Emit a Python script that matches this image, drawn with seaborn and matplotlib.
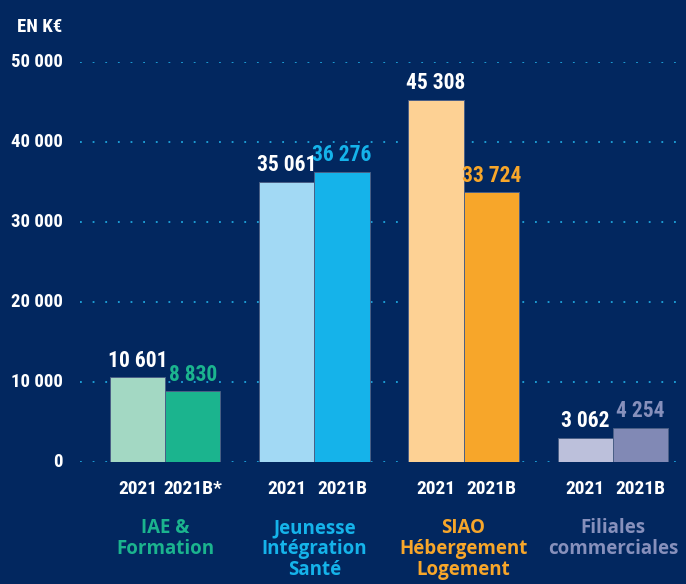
import matplotlib
matplotlib.use("Agg")
import matplotlib.pyplot as plt
import matplotlib.transforms as mtransforms
import pandas as pd
import seaborn as sns

# data
groupes = ["IAE", "Jeunesse", "SIAO", "Filiales"]
noms_groupes = ["IAE &\nFormation", "Jeunesse\nIntégration\nSanté",
                "SIAO\nHébergement\nLogement", "Filiales\ncommerciales"]
annees = ["2021", "2021B"]
etiquettes_annees = [["2021", "2021B*"], ["2021", "2021B"], ["2021", "2021B"], ["2021", "2021B"]]
valeurs_2021 = [10601, 35061, 45308, 3062]
valeurs_2021b = [8830, 36276, 33724, 4254]
y_ticks = [0, 10000, 20000, 30000, 40000, 50000]

couleurs_claires = ["#a3d8c3", "#a2d9f4", "#fdd194", "#bcc0db"]
couleurs_foncees = ["#1bb48e", "#15b3ea", "#f7a62a", "#8189b5"]
couleurs_texte = ["#1bb48e", "#15b3ea", "#f7a62a", "#8790bc"]

FOND = "#02275f"
NARROW = ["Roboto Condensed", "DejaVu Sans"]

df = pd.DataFrame({
    "groupe": groupes * 2,
    "annee": [annees[0]] * 4 + [annees[1]] * 4,
    "valeur": valeurs_2021 + valeurs_2021b,
})

sns.set_style("white")
fig = plt.figure(figsize=(6.86, 5.84), dpi=100, facecolor=FOND)
ax = fig.add_axes([80 / 686, 122 / 584, 606 / 686, 400 / 584])
ax.set_facecolor(FOND)

sns.barplot(data=df, x="groupe", y="valeur", hue="annee", order=groupes,
            hue_order=annees, width=0.74, dodge=True, saturation=1,
            legend=False, ax=ax, err_kws={"linewidth": 0})

ax.set_xlim(-0.57, 3.49)
ax.set_ylim(0, 50000)
for s in ax.spines.values():
    s.set_visible(False)
ax.set_xticks([])
ax.set_yticks([])
ax.set_xlabel("")
ax.set_ylabel("")

gauche = mtransforms.blended_transform_factory(fig.transFigure, ax.transData)
for y in y_ticks:
    ax.axhline(y, color="#1ea6dd", linestyle=(0, (1, 6)), linewidth=1.3, zorder=0)
    ax.text(63 / 686, y, f"{y:,}".replace(",", " "), transform=gauche,
            ha="right", va="center", color="white", fontsize=13.5,
            fontweight="bold", family=NARROW)

fig.text(17 / 686, 1 - 27 / 584, "EN K€", ha="left", va="center",
         color="white", fontsize=13.5, fontweight="bold", family=NARROW)

below = mtransforms.blended_transform_factory(ax.transData, fig.transFigure)
for j, cont in enumerate(ax.containers):
    for i, bar in enumerate(cont):
        fc = couleurs_claires[i] if j == 0 else couleurs_foncees[i]
        bar.set_facecolor(fc)
        bar.set_edgecolor("#4a5f86")
        bar.set_linewidth(0.7)
        xc = bar.get_x() + bar.get_width() / 2
        v = bar.get_height()
        ax.annotate(f"{int(v):,}".replace(",", " "), (xc, v), xytext=(0, 4),
                    textcoords="offset points", ha="center", va="bottom",
                    color="white" if j == 0 else couleurs_texte[i],
                    fontsize=15.5, fontweight="bold", family=NARROW)
        ax.text(xc, 1 - 489 / 584, etiquettes_annees[i][j], transform=below,
                ha="center", va="center", color="white", fontsize=14,
                fontweight="bold", family=NARROW)

for i, nom in enumerate(noms_groupes):
    ax.text(i, 1 - 518 / 584, nom, transform=below, ha="center", va="top",
            color=couleurs_texte[i], fontsize=13.5, fontweight="bold",
            family=["Open Sans", "DejaVu Sans"], linespacing=1.08)

fig.savefig("out.png", dpi=100, facecolor=FOND)
